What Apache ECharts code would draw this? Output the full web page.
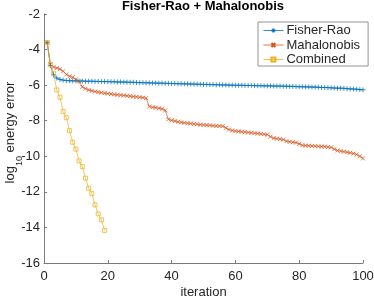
<!DOCTYPE html>
<html><head><meta charset="utf-8">
<script src="https://cdn.jsdelivr.net/npm/echarts@6/dist/echarts.min.js"></script>
<style>html,body{margin:0;padding:0;background:#fff}#c{width:374px;height:298px}</style>
</head><body><div id="c"></div>
<script>
var iterations = [];
for (var i = 1; i <= 100; i++) iterations.push(i);

var fisherRao = [-3.6,-4.9,-5.42,-5.6,-5.68,-5.72,-5.74,-5.75,-5.76,-5.76,
-5.77,-5.77,-5.78,-5.78,-5.78,-5.79,-5.79,-5.8,-5.8,-5.8,
-5.81,-5.81,-5.82,-5.82,-5.83,-5.83,-5.84,-5.84,-5.85,-5.86,
-5.86,-5.87,-5.87,-5.88,-5.88,-5.89,-5.89,-5.9,-5.9,-5.91,
-5.91,-5.92,-5.92,-5.93,-5.93,-5.94,-5.94,-5.95,-5.95,-5.96,
-5.96,-5.97,-5.97,-5.98,-5.98,-5.99,-5.99,-6.0,-6.0,-6.01,
-6.01,-6.01,-6.02,-6.02,-6.02,-6.03,-6.03,-6.03,-6.04,-6.04,
-6.04,-6.05,-6.05,-6.05,-6.06,-6.06,-6.07,-6.07,-6.08,-6.09,
-6.09,-6.1,-6.1,-6.11,-6.11,-6.12,-6.13,-6.13,-6.14,-6.15,
-6.16,-6.17,-6.17,-6.18,-6.2,-6.21,-6.22,-6.23,-6.25,-6.26];

var mahalonobis = [-3.6,-4.83,-4.98,-5.04,-5.1,-5.22,-5.4,-5.5,-5.56,-5.68,
-5.78,-6.1,-6.2,-6.27,-6.32,-6.36,-6.39,-6.42,-6.45,-6.48,
-6.5,-6.52,-6.54,-6.56,-6.58,-6.6,-6.62,-6.64,-6.66,-6.68,
-6.7,-6.73,-7.2,-7.24,-7.27,-7.3,-7.33,-7.42,-7.92,-7.98,
-8.02,-8.06,-8.09,-8.12,-8.14,-8.16,-8.18,-8.2,-8.22,-8.24,
-8.25,-8.26,-8.28,-8.29,-8.3,-8.31,-8.4,-8.5,-8.55,-8.58,
-8.6,-8.62,-8.64,-8.66,-8.68,-8.7,-8.72,-8.74,-8.76,-8.78,
-8.9,-8.98,-9.01,-9.03,-9.06,-9.15,-9.19,-9.21,-9.23,-9.3,
-9.38,-9.4,-9.41,-9.42,-9.43,-9.44,-9.45,-9.46,-9.48,-9.5,
-9.6,-9.67,-9.71,-9.74,-9.77,-9.8,-9.85,-9.9,-10.0,-10.12];

var combined = [-3.61,-4.83,-5.35,-6.27,-6.68,-7.49,-7.83,-8.56,-9.21,-9.6,
-10.26,-10.58,-11.23,-11.8,-12.1,-12.73,-13.24,-13.57,-14.17];

var xTicks = [0,20,40,60,80,100];
var yTicks = [-16,-14,-12,-10,-8,-6,-4,-2];

function pairs(ys){ return ys.map(function(v,k){ return [iterations[k], v]; }); }

var FONT = '"Liberation Sans", Arial, Helvetica, sans-serif';
var TXT = '#262626';
var AX = '#7a7a7a';
var plusPath = 'path://M0,5L10,5M5,0L5,10';
var crossPath = 'path://M1,1L9,9M9,1L1,9';

function mkSeries(name, ys, color, symbol, size) {
  return {
    name: name, type: 'line', data: pairs(ys),
    symbol: symbol, symbolSize: size, showAllSymbol: true,
    lineStyle: { color: color, width: 0.7 },
    itemStyle: { color: 'none', borderColor: color, borderWidth: 0.75 },
    emphasis: { disabled: true },
    animation: false
  };
}

var chart = echarts.init(document.getElementById('c'), null, { renderer: 'canvas' });
chart.setOption({
  animation: false,
  backgroundColor: '#fff',
  title: {
    text: 'Fisher-Rao + Mahalonobis', left: 203, top: 0, textAlign: 'center', padding: 0,
    textStyle: { fontFamily: FONT, fontSize: 13, fontWeight: 'bold', color: '#000' }
  },
  legend: {
    orient: 'vertical', left: 258, top: 22, padding: [2, 8, 0, 5],
    itemWidth: 20, itemHeight: 5, itemGap: 1.5,
    borderColor: '#7a7a7a', borderWidth: 0.8, backgroundColor: '#fff',
    lineStyle: { width: 0.8 },
    textStyle: { fontFamily: FONT, fontSize: 13, color: TXT, padding: [0,0,0,-2] },
    data: ['Fisher-Rao', 'Mahalonobis', 'Combined']
  },
  grid: { left: 44, right: 11, top: 14, bottom: 35, containLabel: false, outerBoundsMode: 'none' },
  xAxis: {
    type: 'value', min: 0, max: 100, interval: 20,
    name: 'iteration', nameLocation: 'middle', nameGap: 23, nameMoveOverlap: false,
    nameTextStyle: { fontFamily: FONT, fontSize: 13, color: TXT },
    axisLine: { lineStyle: { color: AX, width: 1 } },
    axisTick: { inside: true, length: 3, lineStyle: { color: AX } },
    axisLabel: { fontFamily: FONT, fontSize: 13, color: TXT, margin: 7,
      formatter: function(v){ return xTicks.indexOf(v) >= 0 ? String(v) : ''; } },
    splitLine: { show: false }
  },
  yAxis: {
    type: 'value', min: -16, max: -2, interval: 2,
    name: '{n|log}{s|10}{n| energy error}', nameLocation: 'middle', nameGap: 27, nameMoveOverlap: false,
    nameTextStyle: { fontFamily: FONT, fontSize: 13, color: TXT, padding: [0,0,0,12],
      rich: { n: { fontFamily: FONT, fontSize: 13, color: TXT },
              s: { fontFamily: FONT, fontSize: 9, color: TXT, verticalAlign: 'bottom', padding: [0,0,-7,0] } } },
    axisLine: { show: true, lineStyle: { color: AX, width: 1 } },
    axisTick: { show: true, inside: true, length: 3, lineStyle: { color: AX } },
    axisLabel: { fontFamily: FONT, fontSize: 13, color: TXT, margin: 4,
      formatter: function(v){ return yTicks.indexOf(v) >= 0 ? String(v) : ''; } },
    splitLine: { show: false }
  },
  series: [
    mkSeries('Fisher-Rao', fisherRao, '#0072BD', plusPath, 5),
    mkSeries('Mahalonobis', mahalonobis, '#D95319', crossPath, 4),
    mkSeries('Combined', combined, '#EDB120', 'rect', 4)
  ]
});
</script></body></html>
